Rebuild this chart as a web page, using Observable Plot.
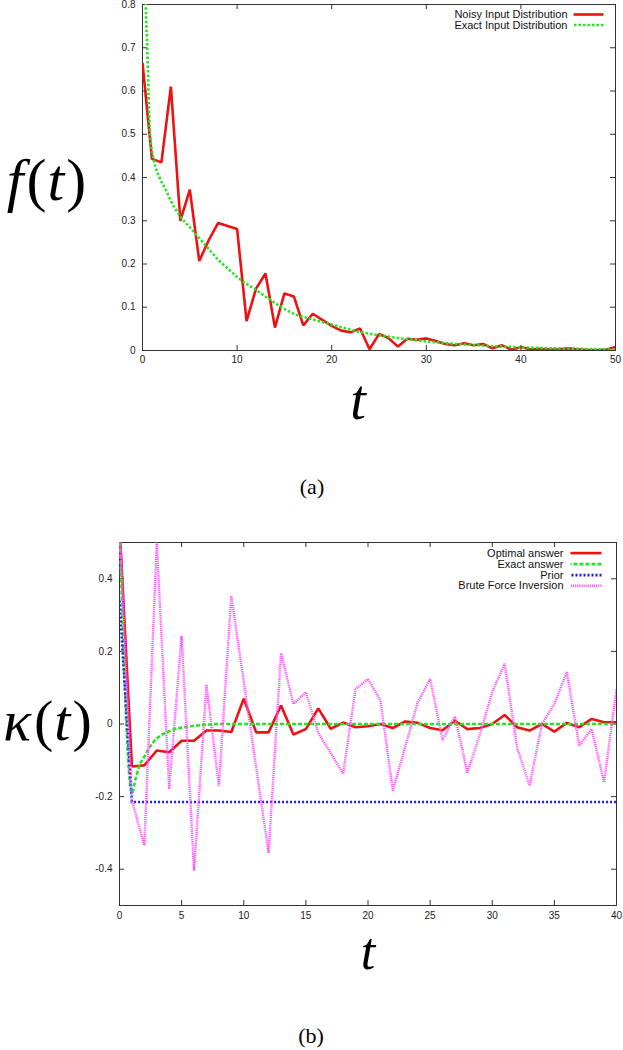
<!DOCTYPE html>
<html>
<head>
<meta charset="utf-8">
<script src="https://cdn.jsdelivr.net/npm/d3@7"></script>
<script src="https://cdn.jsdelivr.net/npm/@observablehq/plot@0.6"></script>
<style>
  html, body { margin: 0; padding: 0; background: #fff; }
  #wrap { width: 623px; }
  #wrap svg { display: block; }
</style>
</head>
<body>
<div id="wrap"></div>
<script>
// ---------- Panel (a) data ----------
const tA = d3.range(0, 51);
const noisyA = [0.665,0.443,0.435,0.61,0.30,0.372,0.207,0.255,0.295,0.288,
  0.281,0.068,0.143,0.178,0.053,0.132,0.125,0.058,0.085,0.071,
  0.057,0.046,0.042,0.051,0.003,0.038,0.029,0.009,0.027,0.025,
  0.028,0.022,0.015,0.012,0.017,0.012,0.015,0.005,0.012,0.002,
  0.008,0.003,0.004,0.002,0.003,0.005,0.003,0.001,0.001,0.002,0.008];
const exactTA = [0.25,0.35,0.5,0.8,1.2,1.8,2.5,3,4,5,6,7,8,9,10,12,14,16,18,20,23,26,30,34,38,42,46,50];
const exactA = [0.95,0.8,0.7,0.5,0.44,0.40,0.37,0.346,0.31,0.285,0.26,0.235,0.21,0.19,0.17,0.14,0.11,0.085,0.072,0.06,0.043,0.032,0.021,0.014,0.009,0.006,0.004,0.002];
const xTicksA = [0,10,20,30,40,50];
const yTicksA = [0,0.1,0.2,0.3,0.4,0.5,0.6,0.7,0.8];
const legendA = ["Noisy Input Distribution", "Exact Input Distribution"];

// ---------- Panel (b) data ----------
const tB = d3.range(0, 41);
const optimalB = [0.55,-0.117,-0.114,-0.073,-0.078,-0.046,-0.046,-0.018,-0.018,-0.022,
  0.07,-0.023,-0.023,0.051,-0.029,-0.014,0.043,-0.013,0.004,-0.009,
  -0.006,0,-0.011,0.007,0.003,-0.011,-0.017,0.009,-0.014,-0.011,
  0,0.025,-0.009,-0.018,0,-0.021,0.003,-0.009,0.014,0.005,0.005];
const exactTB = [0,1,1.3,1.6,2,2.5,3,4,5,6,7,8,10,15,20,25,30,35,40];
const exactB = [0.55,-0.19,-0.15,-0.115,-0.09,-0.06,-0.04,-0.02,-0.01,-0.005,-0.002,0,0,0,0,0,0,0,0];
const priorTB = [0,1,40];
const priorB = [0.34,-0.215,-0.215];
const bruteB = [0.55,-0.21,-0.335,0.5,-0.179,0.243,-0.404,0.108,-0.17,0.353,
  0.117,-0.119,-0.355,0.195,0.055,0.087,-0.025,-0.08,-0.137,0.096,
  0.124,0.065,-0.184,-0.062,0.06,0.124,-0.044,0.021,-0.134,-0.03,
  0.088,0.166,-0.065,-0.17,0,0.055,0.143,-0.06,-0.014,-0.161,0.097];
const xTicksB = [0,5,10,15,20,25,30,35,40];
const yTicksB = [-0.4,-0.2,0,0.2,0.4];
const legendB = ["Optimal answer", "Exact answer", "Prior", "Brute Force Inversion"];

// ---------- styles ----------
const RED = "#ee1111", GREEN = "#22e622", BLUE = "#1a1aff", MAGENTA = "#ff55ff";
const SERIF = "'Liberation Serif', 'DejaVu Serif', serif";
const SANS = "'Liberation Sans', Arial, Helvetica, sans-serif";
const lineShape = { draw(context, l) { context.moveTo(0, 0); context.lineTo(0, -l); } };

function rows(ts, vs) { return ts.map((t, i) => ({t, v: vs[i]})); }

function ticksMarks(xt, yt, pw, ph) {
  const s = {stroke: "#333", strokeWidth: 1};
  return [
    Plot.ruleX(xt, {...s, insetTop: ph - 5}),
    Plot.ruleX(xt, {...s, insetBottom: ph - 5}),
    Plot.ruleY(yt, {...s, insetRight: pw - 5}),
    Plot.ruleY(yt, {...s, insetLeft: pw - 5})
  ];
}

function legendMarks(names, styles, textDx, sampleDx, sampleLen, dys) {
  const out = [];
  names.forEach((name, i) => {
    out.push(Plot.text([name], {text: d => d, frameAnchor: "top-right", dx: textDx, dy: dys[i],
      textAnchor: "end", lineAnchor: "middle", fontSize: 11, fill: "#111"}));
    out.push(Plot.vector([name], {frameAnchor: "top-right", dx: sampleDx, dy: dys[i],
      length: sampleLen, rotate: -90, anchor: "start", shape: lineShape, ...styles[i]}));
  });
  return out;
}

function label(txt, o) {
  return Plot.text([txt], {text: d => d, fontFamily: SERIF, fill: "#000", textAnchor: "middle", ...o});
}

function mathify(svg) {
  svg.querySelectorAll("text").forEach(el => {
    const s = el.textContent;
    if (s === "f(t)" || s === "κ(t)") {
      const v = s[0];
      el.innerHTML = `<tspan font-style="italic">${v}</tspan><tspan font-style="normal" dx="3">(</tspan><tspan font-style="italic" dx="1">t</tspan><tspan font-style="normal" dx="2">)</tspan>`;
    }
  });
}

// ---------- Panel (a) ----------
const A = {w: 623, h: 530, mt: 4, mb: 180, ml: 142, mr: 8};
const pwA = A.w - A.ml - A.mr, phA = A.h - A.mt - A.mb;
const stylesA = [
  {stroke: RED, strokeWidth: 2.6, strokeLinecap: "butt"},
  {stroke: GREEN, strokeWidth: 2.6, strokeDasharray: "2.5,2", strokeLinecap: "butt"}
];
const plotA = Plot.plot({
  width: A.w, height: A.h, marginTop: A.mt, marginBottom: A.mb, marginLeft: A.ml, marginRight: A.mr,
  style: {fontFamily: SANS, fontSize: "10px", background: "#fff", color: "#222", overflow: "visible"},
  x: {domain: [0, 50], ticks: xTicksA, tickFormat: d => String(d), tickSize: 0, tickPadding: 5, label: null},
  y: {domain: [0, 0.8], ticks: yTicksA, tickFormat: d => String(d), tickSize: 0, tickPadding: 7, label: null},
  marks: [
    Plot.frame({stroke: "#333", strokeWidth: 1}),
    ...ticksMarks(xTicksA, yTicksA, pwA, phA),
    Plot.line(rows(tA, noisyA), {x: "t", y: "v", ...stylesA[0], strokeLinejoin: "miter", clip: true}),
    Plot.line(rows(exactTA, exactA), {x: "t", y: "v", ...stylesA[1], curve: "monotone-x", clip: true}),
    ...legendMarks(legendA, stylesA, -48, -12, 30, [10, 20.5]),
    label("t", {frameAnchor: "bottom", dx: -21, dy: 68, fontSize: 56, fontStyle: "italic", lineAnchor: "bottom"}),
    label("(a)", {frameAnchor: "bottom", dx: -67, dy: 143, fontSize: 22, lineAnchor: "bottom"}),
    label("f(t)", {frameAnchor: "left", dx: -96, dy: 22, fontSize: 60, lineAnchor: "bottom"})
  ]
});

// ---------- Panel (b) ----------
const B = {w: 623, h: 520, mt: 12, mb: 145, ml: 119, mr: 7};
const pwB = B.w - B.ml - B.mr, phB = B.h - B.mt - B.mb;
const stylesB = [
  {stroke: RED, strokeWidth: 2.6, strokeLinecap: "butt"},
  {stroke: GREEN, strokeWidth: 2.6, strokeDasharray: "4,2", strokeLinecap: "butt"},
  {stroke: BLUE, strokeWidth: 2.6, strokeDasharray: "2,2", strokeLinecap: "butt"},
  {stroke: MAGENTA, strokeWidth: 2.4, strokeDasharray: "1.2,0.9", strokeLinecap: "butt"}
];
const plotB = Plot.plot({
  width: B.w, height: B.h, marginTop: B.mt, marginBottom: B.mb, marginLeft: B.ml, marginRight: B.mr,
  style: {fontFamily: SANS, fontSize: "10px", background: "#fff", color: "#222", overflow: "visible"},
  x: {domain: [0, 40], ticks: xTicksB, tickFormat: d => String(d), tickSize: 0, tickPadding: 6, label: null},
  y: {domain: [-0.5, 0.5], ticks: yTicksB, tickFormat: d => String(d), tickSize: 0, tickPadding: 7, label: null},
  marks: [
    Plot.frame({stroke: "#333", strokeWidth: 1}),
    ...ticksMarks(xTicksB, yTicksB, pwB, phB),
    Plot.line(rows(tB, optimalB), {x: "t", y: "v", ...stylesB[0], strokeLinejoin: "miter", clip: true}),
    Plot.line(rows(exactTB, exactB), {x: "t", y: "v", ...stylesB[1], curve: "monotone-x", clip: true}),
    Plot.line(rows(priorTB, priorB), {x: "t", y: "v", ...stylesB[2], clip: true}),
    Plot.line(rows(tB, bruteB), {x: "t", y: "v", ...stylesB[3], strokeLinejoin: "miter", clip: true}),
    ...legendMarks(legendB, stylesB, -53, -15, 31, [10.6, 21.6, 32.6, 43.3]),
    label("t", {frameAnchor: "bottom", dx: 0, dy: 63, fontSize: 52, fontStyle: "italic", lineAnchor: "bottom"}),
    label("(b)", {frameAnchor: "bottom", dx: -57, dy: 137, fontSize: 22, lineAnchor: "bottom"}),
    label("κ(t)", {frameAnchor: "left", dx: -72, dy: 16, fontSize: 58, lineAnchor: "bottom"})
  ]
});

const wrap = document.getElementById("wrap");
wrap.appendChild(plotA);
wrap.appendChild(plotB);
mathify(plotA);
mathify(plotB);
</script>
</body>
</html>
